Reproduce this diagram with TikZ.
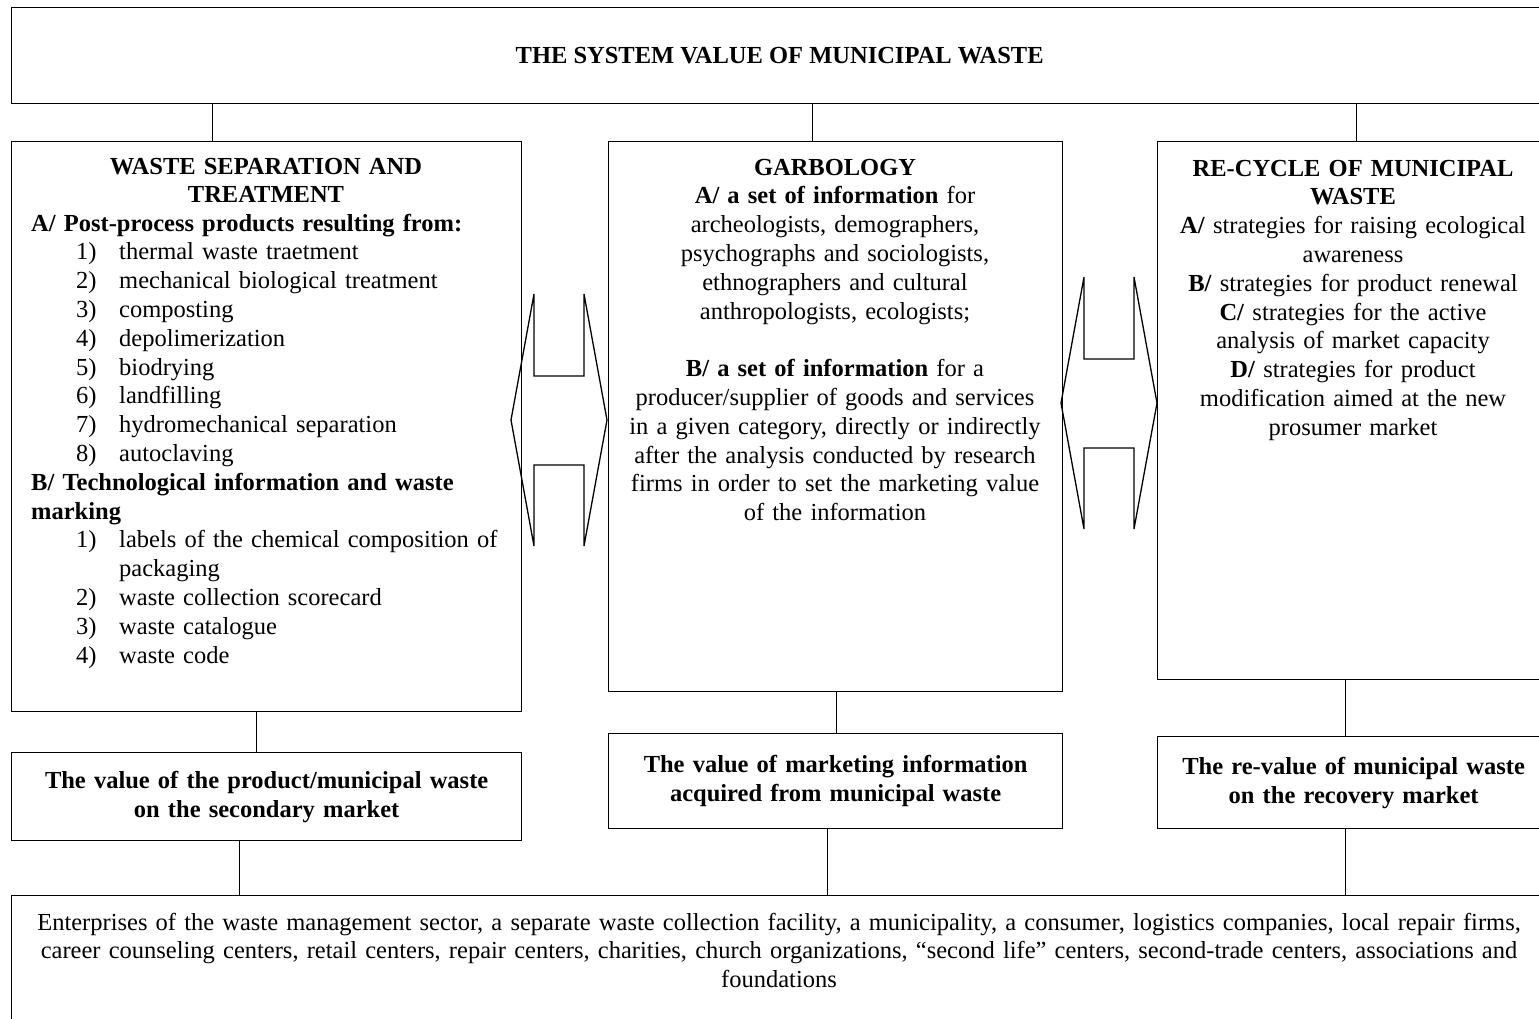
\documentclass[tikz,border=0pt]{standalone}
\usepackage{fontspec}
\setmainfont{Liberation Serif}

\newcommand\boxfont{\fontsize{24.5}{28.8}\selectfont}
\newcommand\wasteitem[2]{\hspace*{45pt}\makebox[43pt][l]{#1}#2}

\tikzset{
  box/.style={draw, line width=1.3pt, inner sep=0pt, anchor=north west},
  link/.style={line width=1.3pt},
  plain/.style={font=\boxfont, inner sep=0pt, align=center},
  bold/.style={font=\boxfont\bfseries, inner sep=0pt, align=center},
  splitarrow/.pic={
    \draw[line width=1.3pt] (-25,-126) -- (-25,-44) -- (25,-44) -- (25,-126) -- (48,0)
      -- (25,126) -- (25,45) -- (-25,45) -- (-25,126) -- (-48,0) -- cycle;
  }
}

\begin{document}
\begin{tikzpicture}[x=1pt, y=-1pt]
\clip (0,0) rectangle (1539,1018);

  \node[box, bold, minimum width=1536pt, minimum height=96pt] (system) at (11,7)
    {THE SYSTEM VALUE OF MUNICIPAL WASTE};

  % the three fields
  \node[box, minimum width=510pt, minimum height=570pt] (sep) at (11,141) {};
  \node[box, minimum width=454pt, minimum height=550pt] (garb) at (608,141) {};
  \node[box, minimum width=392pt, minimum height=538pt] (recyc) at (1157,141) {};

  \node[bold, text width=490pt, anchor=base] (septitle) at (266,174)
    {WASTE SEPARATION AND\\TREATMENT};
  \node[plain, align=left, text width=490pt, anchor=base west] (seplist) at (31,231) {
    \textbf{A/ Post-process products resulting from:}\\
    \wasteitem{1)}{thermal waste traetment}\\
    \wasteitem{2)}{mechanical biological treatment}\\
    \wasteitem{3)}{composting}\\
    \wasteitem{4)}{depolimerization}\\
    \wasteitem{5)}{biodrying}\\
    \wasteitem{6)}{landfilling}\\
    \wasteitem{7)}{hydromechanical separation}\\
    \wasteitem{8)}{autoclaving}\\
    \textbf{B/ Technological information and waste}\\
    \textbf{marking}\\
    \wasteitem{1)}{labels of the chemical composition of}\\
    \hspace*{88pt}packaging\\
    \wasteitem{2)}{waste collection scorecard}\\
    \wasteitem{3)}{waste catalogue}\\
    \wasteitem{4)}{waste code}};

  \node[plain, text width=440pt, anchor=base] (garbtext) at (835,175) {
    \textbf{GARBOLOGY}\\
    \textbf{A/ a set of information} for\\
    archeologists, demographers,\\
    psychographs and sociologists,\\
    ethnographers and cultural\\
    anthropologists, ecologists;\\[28.8pt]
    \textbf{B/ a set of information} for a\\
    producer/supplier of goods and services\\
    in a given category, directly or indirectly\\
    after the analysis conducted by research\\
    firms in order to set the marketing value\\
    of the information};

  \node[plain, text width=390pt, anchor=base] (recyctext) at (1353,176) {
    \textbf{RE-CYCLE OF MUNICIPAL}\\
    \textbf{WASTE}\\
    \textbf{A/} strategies for raising ecological\\
    awareness\\
    \textbf{B/} strategies for product renewal\\
    \textbf{C/} strategies for the active\\
    analysis of market capacity\\
    \textbf{D/} strategies for product\\
    modification aimed at the new\\
    prosumer market};

  % values
  \node[box, bold, text width=500pt, minimum width=510pt, minimum height=88pt] (vsep) at (11,752)
    {The value of the product/municipal waste\\on the secondary market};
  \node[box, bold, text width=444pt, minimum width=454pt, minimum height=95pt] (vgarb) at (608,733)
    {The value of marketing information\\acquired from municipal waste};
  \node[box, bold, text width=382pt, minimum width=392pt, minimum height=92pt] (vrecyc) at (1157,736)
    {The re-value of municipal waste\\on the recovery market};

  \node[box, minimum width=1536pt, minimum height=160pt] (actors) at (11,895) {};
  \node[plain, text width=1520pt, anchor=base] (actorstext) at (779,930) {
    Enterprises of the waste management sector, a separate waste collection facility, a municipality, a consumer, logistics companies, local repair firms,\\
    career counseling centers, retail centers, repair centers, charities, church organizations, ``second life'' centers, second-trade centers, associations and\\
    foundations};

  % connections
  \draw[link] ([xshift=-54pt]sep.north) -- ([xshift=-54pt]sep.north |- system.south);
  \draw[link] ([xshift=-23pt]garb.north) -- ([xshift=-23pt]garb.north |- system.south);
  \draw[link] ([xshift=3pt]recyc.north) -- ([xshift=3pt]recyc.north |- system.south);

  \draw[link] ([xshift=-10pt]sep.south) -- ([xshift=-10pt]sep.south |- vsep.north);
  \draw[link] ([xshift=1pt]garb.south) -- ([xshift=1pt]garb.south |- vgarb.north);
  \draw[link] ([xshift=-8pt]recyc.south) -- ([xshift=-8pt]recyc.south |- vrecyc.north);

  \draw[link] ([xshift=-27pt]vsep.south) -- ([xshift=-27pt]vsep.south |- actors.north);
  \draw[link] ([xshift=-8pt]vgarb.south) -- ([xshift=-8pt]vgarb.south |- actors.north);
  \draw[link] ([xshift=-8pt]vrecyc.south) -- ([xshift=-8pt]vrecyc.south |- actors.north);

  % exchange between the fields
  \pic at (559,420) {splitarrow};
  \pic at (1109,403) {splitarrow};

\end{tikzpicture}
\end{document}
